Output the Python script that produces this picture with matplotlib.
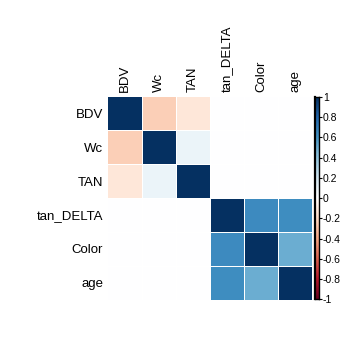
import numpy as np
import matplotlib
matplotlib.use("Agg")
from matplotlib import pyplot as plt
from matplotlib.colors import LinearSegmentedColormap

plt.rcParams['font.family'] = ['Liberation Sans', 'DejaVu Sans']

variables = ["BDV", "Wc", "TAN", "tan_DELTA", "Color", "age"]

# correlation matrix (two independent blocks)
row_BDV = [1.00, -0.25, -0.14, 0.00, 0.00, 0.00]
row_Wc = [-0.25, 1.00, 0.08, 0.00, 0.00, 0.00]
row_TAN = [-0.14, 0.08, 1.00, 0.00, 0.00, 0.00]
row_tan_DELTA = [0.00, 0.00, 0.00, 1.00, 0.63, 0.62]
row_Color = [0.00, 0.00, 0.00, 0.63, 1.00, 0.49]
row_age = [0.00, 0.00, 0.00, 0.62, 0.49, 1.00]

cbar_ticks = [1, 0.8, 0.6, 0.4, 0.2, 0, -0.2, -0.4, -0.6, -0.8, -1]

corr = np.array([row_BDV, row_Wc, row_TAN, row_tan_DELTA, row_Color, row_age])

rdbu = ["#67001F", "#B2182B", "#D6604D", "#F4A582", "#FDDBC7", "#FFFFFF",
        "#D1E5F0", "#92C5DE", "#4393C3", "#2166AC", "#053061"]
cmap = LinearSegmentedColormap.from_list("corr", rdbu, N=200)

fig = plt.figure(figsize=(3.42, 3.42), dpi=100)
ax = fig.add_axes([0.314, 0.123, 0.599, 0.596])

n = len(variables)
ax.pcolormesh(np.arange(n + 1), np.arange(n + 1), corr, cmap=cmap,
              vmin=-1, vmax=1, edgecolor="white", linewidth=0.4)
ax.set_xlim(0, n)
ax.set_ylim(n, 0)
ax.set_xticks(np.arange(n) + 0.5)
ax.set_yticks(np.arange(n) + 0.5)
ax.set_xticklabels(variables, rotation=90, fontsize=9.5)
ax.set_yticklabels(variables, fontsize=9.5)
ax.xaxis.tick_top()
ax.tick_params(length=0, pad=3)
for s in ax.spines.values():
    s.set_visible(False)

# colour legend on the right
cax = fig.add_axes([0.920, 0.125, 0.012, 0.592])
grad = np.linspace(-1, 1, 200).reshape(-1, 1)
cax.pcolormesh([0, 1], np.linspace(-1, 1, 201), grad, cmap=cmap, vmin=-1, vmax=1)
cax.set_ylim(-1, 1)
cax.set_xlim(0, 1)
cax.set_xticks([])
cax.yaxis.tick_right()
cax.set_yticks(cbar_ticks)
cax.set_yticklabels([("%g" % t) for t in cbar_ticks], fontsize=7.5)
cax.tick_params(axis="y", length=2, width=0.8, pad=1)
for s in cax.spines.values():
    s.set_linewidth(1.0)
cax.spines["left"].set_linewidth(1.6)

fig.savefig("out.png", dpi=100)
